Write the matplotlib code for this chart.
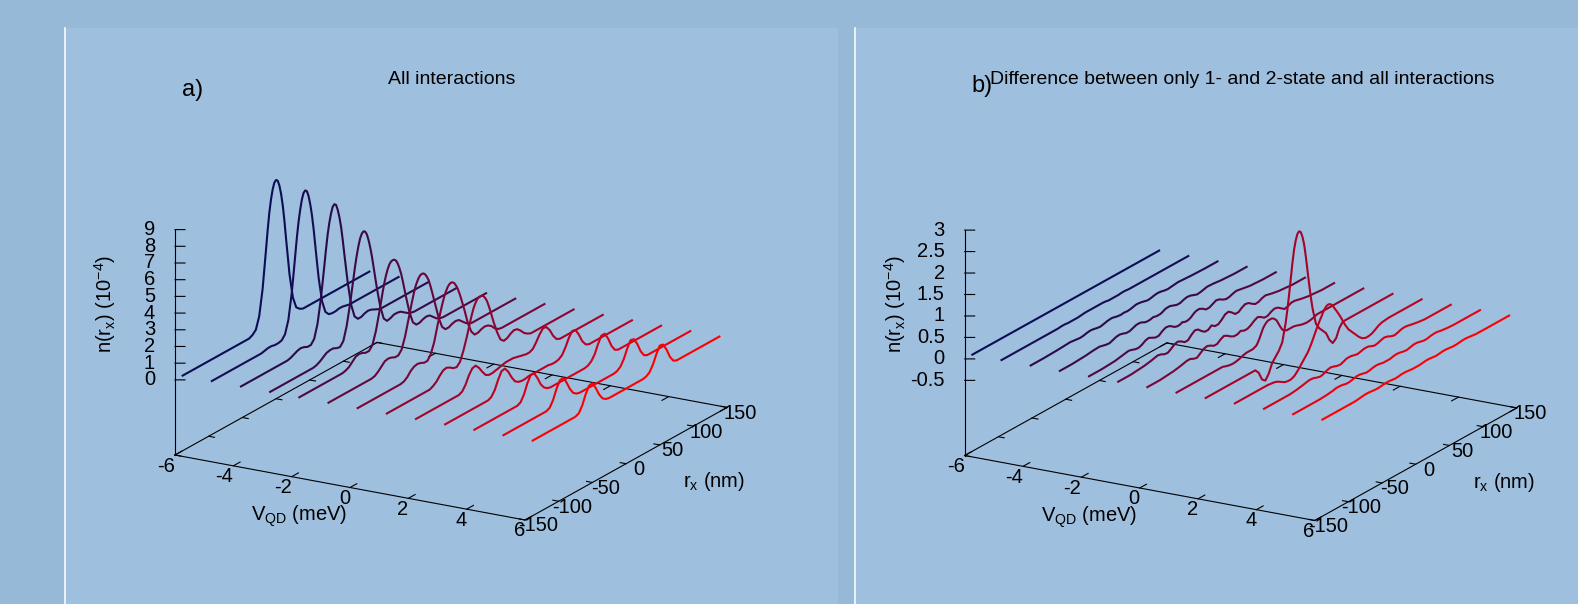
import numpy as np
import matplotlib.pyplot as plt
from matplotlib.patches import Rectangle
from matplotlib.lines import Line2D
from mpl_toolkits.mplot3d import proj3d

W, H = 1578, 604

# gate voltage of each curve (meV) and position grid (nm)
v_qd = [-6, -5, -4, -3, -2, -1, 0, 1, 2, 3, 4, 5, 6]
r_x = [-140, -120, -100, -90, -80, -75, -70, -65, -60, -55, -50, -45, -40, -35, -30, -25,
       -20, -17.5, -15, -12.5, -10, -7.5, -5, -2.5, 0, 2.5, 5, 7.5, 10, 12.5, 15, 17.5, 20,
       25, 30, 35, 40, 45, 50, 55, 60, 65, 70, 75, 80, 90, 100, 120, 140]

# a) density, all interactions (1e-4)
n_all = [
    [0, 0, 0, 0, 0, 0, 0, 0, 0, 0, 0, 0, 0, 0.1, 0.3, 1.0, 2.5, 3.6, 4.7, 5.85, 6.85, 7.6, 8.15, 8.5, 8.6,
     8.5, 8.15, 7.6, 6.85, 5.85, 4.7, 3.6, 2.5, 1.0, 0.3, 0.1, 0, 0, 0, 0, 0, 0, 0, 0, 0, 0, 0, 0, 0],
    [0, 0, 0, 0, 0, 0, 0, 0, 0.05, 0.1, 0.1, 0.05, 0.05, 0.1, 0.35, 1.1, 2.6, 3.6, 4.65, 5.7, 6.6, 7.3, 7.85, 8.2, 8.3,
     8.2, 7.85, 7.3, 6.6, 5.7, 4.65, 3.6, 2.6, 1.1, 0.35, 0.1, 0.05, 0.05, 0.1, 0.1, 0.05, 0, 0, 0, 0, 0, 0, 0, 0],
    [0, 0, 0, 0, 0, 0, 0, 0.05, 0.15, 0.25, 0.3, 0.25, 0.15, 0.15, 0.4, 1.2, 2.6, 3.5, 4.4, 5.35, 6.2, 6.85, 7.35, 7.7, 7.8,
     7.7, 7.35, 6.85, 6.2, 5.35, 4.4, 3.5, 2.6, 1.2, 0.4, 0.15, 0.15, 0.25, 0.3, 0.25, 0.15, 0.05, 0, 0, 0, 0, 0, 0, 0],
    [0, 0, 0, 0, 0, 0, 0.05, 0.15, 0.3, 0.45, 0.5, 0.5, 0.4, 0.35, 0.6, 1.4, 2.6, 3.3, 4.0, 4.7, 5.3, 5.8, 6.2, 6.42, 6.5,
     6.42, 6.2, 5.8, 5.3, 4.7, 4.0, 3.3, 2.6, 1.4, 0.6, 0.35, 0.4, 0.5, 0.5, 0.45, 0.3, 0.15, 0.05, 0, 0, 0, 0, 0, 0],
    [0, 0, 0, 0, 0, 0, 0.05, 0.15, 0.35, 0.55, 0.6, 0.55, 0.45, 0.45, 0.7, 1.4, 2.4, 2.95, 3.5, 4.0, 4.4, 4.72, 4.95, 5.07, 5.1,
     5.07, 4.95, 4.72, 4.4, 4.0, 3.5, 2.95, 2.4, 1.4, 0.7, 0.45, 0.45, 0.55, 0.6, 0.55, 0.35, 0.15, 0.05, 0, 0, 0, 0, 0, 0],
    [0, 0, 0, 0, 0, 0, 0.05, 0.2, 0.4, 0.6, 0.65, 0.6, 0.5, 0.5, 0.75, 1.4, 2.3, 2.75, 3.2, 3.62, 4.0, 4.25, 4.45, 4.57, 4.6,
     4.57, 4.45, 4.25, 4.0, 3.62, 3.2, 2.75, 2.3, 1.4, 0.75, 0.5, 0.5, 0.6, 0.65, 0.6, 0.4, 0.2, 0.05, 0, 0, 0, 0, 0, 0],
    [0, 0, 0, 0, 0, 0, 0.05, 0.2, 0.45, 0.6, 0.65, 0.6, 0.5, 0.5, 0.8, 1.4, 2.3, 2.7, 3.1, 3.47, 3.8, 4.05, 4.25, 4.36, 4.4,
     4.36, 4.25, 4.05, 3.8, 3.47, 3.1, 2.7, 2.3, 1.4, 0.8, 0.5, 0.5, 0.6, 0.65, 0.6, 0.45, 0.2, 0.05, 0, 0, 0, 0, 0, 0],
    [0, 0, 0, 0, 0, 0, 0.1, 0.25, 0.5, 0.7, 0.75, 0.65, 0.5, 0.45, 0.65, 1.2, 1.9, 2.3, 2.7, 3.07, 3.4, 3.63, 3.8, 3.88, 3.9,
     3.88, 3.8, 3.63, 3.4, 3.07, 2.7, 2.3, 1.9, 1.2, 0.65, 0.45, 0.5, 0.65, 0.75, 0.7, 0.5, 0.25, 0.1, 0, 0, 0, 0, 0, 0],
    [0, 0, 0, 0, 0, 0, 0.1, 0.4, 0.85, 1.15, 1.2, 0.95, 0.6, 0.3, 0.2, 0.2, 0.25, 0.27, 0.3, 0.33, 0.35, 0.38, 0.4, 0.4, 0.4,
     0.4, 0.4, 0.38, 0.35, 0.33, 0.3, 0.27, 0.25, 0.2, 0.2, 0.3, 0.6, 0.95, 1.2, 1.15, 0.85, 0.4, 0.1, 0, 0, 0, 0, 0, 0],
    [0, 0, 0, 0, 0, 0, 0.1, 0.4, 0.9, 1.3, 1.35, 1.05, 0.6, 0.25, 0.1, 0.05, 0.05, 0.07, 0.1, 0.1, 0.1, 0.1, 0.1, 0.1, 0.1,
     0.1, 0.1, 0.1, 0.1, 0.1, 0.1, 0.07, 0.05, 0.05, 0.1, 0.25, 0.6, 1.05, 1.35, 1.3, 0.9, 0.4, 0.1, 0, 0, 0, 0, 0, 0],
    [0, 0, 0, 0, 0, 0, 0.1, 0.45, 1.0, 1.4, 1.4, 1.0, 0.5, 0.2, 0.05, 0, 0, 0, 0, 0, 0, 0, 0, 0, 0,
     0, 0, 0, 0, 0, 0, 0, 0, 0, 0.05, 0.2, 0.5, 1.0, 1.4, 1.4, 1.0, 0.45, 0.1, 0, 0, 0, 0, 0, 0],
    [0, 0, 0, 0, 0, 0, 0.1, 0.45, 1.0, 1.4, 1.45, 1.05, 0.55, 0.2, 0.05, 0, 0, 0, 0, 0, 0, 0, 0, 0, 0,
     0, 0, 0, 0, 0, 0, 0, 0, 0, 0.05, 0.2, 0.55, 1.05, 1.45, 1.4, 1.0, 0.45, 0.1, 0, 0, 0, 0, 0, 0],
    [0, 0, 0, 0, 0, 0, 0.1, 0.45, 1.0, 1.4, 1.45, 1.05, 0.55, 0.2, 0.05, 0, 0, 0, 0, 0, 0, 0, 0, 0, 0,
     0, 0, 0, 0, 0, 0, 0, 0, 0, 0.05, 0.2, 0.55, 1.05, 1.45, 1.4, 1.0, 0.45, 0.1, 0, 0, 0, 0, 0, 0],
]

# b) difference between only 1- and 2-state and all interactions (1e-4)
n_diff = [
    [0] * 49,
    [0, 0, 0, 0, 0, 0, 0, 0, 0, 0, 0.01, 0.01, 0, 0, 0, 0, 0.01, 0.015, 0.02, 0.02, 0.02, 0.02, 0.02, 0.02, 0.02,
     0.02, 0.02, 0.02, 0.02, 0.02, 0.015, 0.01, 0, 0, 0, 0, 0.01, 0.01, 0, 0, 0, 0, 0, 0, 0, 0, 0, 0, 0],
    [0, 0, 0.01, 0.02, 0.03, 0.02, 0.01, 0, 0.01, 0.03, 0.04, 0.03, 0.01, 0, 0.02, 0.04, 0.05, 0.05, 0.04, 0.03, 0.02, 0.015, 0.01, 0.015, 0.02,
     0.015, 0.01, 0.015, 0.02, 0.03, 0.04, 0.05, 0.05, 0.04, 0.02, 0, 0.01, 0.03, 0.04, 0.03, 0.01, 0, 0.01, 0.02, 0.03, 0.02, 0.01, 0, 0],
    [0, 0, 0.02, 0.04, 0.05, 0.03, 0.01, 0, 0.03, 0.06, 0.07, 0.05, 0.02, 0.02, 0.05, 0.08, 0.08, 0.07, 0.05, 0.03, 0.02, 0.02, 0.02, 0.03, 0.04,
     0.03, 0.02, 0.02, 0.02, 0.03, 0.05, 0.07, 0.08, 0.08, 0.05, 0.02, 0.02, 0.05, 0.07, 0.06, 0.03, 0, 0.01, 0.03, 0.05, 0.04, 0.02, 0, 0],
    [0, 0, 0.02, 0.05, 0.08, 0.06, 0.03, 0.02, 0.05, 0.1, 0.12, 0.08, 0.04, 0.04, 0.1, 0.14, 0.13, 0.11, 0.08, 0.05, 0.03, 0.02, 0.02, 0.03, 0.05,
     0.03, 0.02, 0.02, 0.03, 0.05, 0.08, 0.11, 0.13, 0.14, 0.1, 0.04, 0.04, 0.08, 0.12, 0.1, 0.05, 0.02, 0.03, 0.06, 0.08, 0.05, 0.02, 0, 0],
    [0, 0, 0.03, 0.06, 0.1, 0.08, 0.04, 0.03, 0.08, 0.14, 0.16, 0.12, 0.06, 0.06, 0.14, 0.2, 0.18, 0.14, 0.1, 0.07, 0.04, 0.04, 0.04, 0.07, 0.1,
     0.07, 0.04, 0.04, 0.04, 0.07, 0.1, 0.14, 0.18, 0.2, 0.14, 0.06, 0.06, 0.12, 0.16, 0.14, 0.08, 0.03, 0.04, 0.08, 0.1, 0.06, 0.03, 0, 0],
    [0, 0, 0.03, 0.06, 0.1, 0.1, 0.06, 0.04, 0.1, 0.16, 0.18, 0.15, 0.1, 0.1, 0.16, 0.2, 0.16, 0.13, 0.1, 0.08, 0.06, 0.06, 0.06, 0.08, 0.1,
     0.08, 0.06, 0.06, 0.06, 0.08, 0.1, 0.13, 0.16, 0.2, 0.16, 0.1, 0.1, 0.15, 0.18, 0.16, 0.1, 0.04, 0.06, 0.1, 0.1, 0.06, 0.03, 0, 0],
    [0, 0, 0, 0, 0, 0, 0, -0.03, -0.05, -0.06, -0.05, -0.03, 0, 0.02, 0.02, 0.02, 0.06, 0.12, 0.2, 0.29, 0.38, 0.43, 0.47, 0.49, 0.49,
     0.49, 0.47, 0.43, 0.38, 0.29, 0.2, 0.12, 0.06, 0.02, 0.02, 0.02, 0, -0.03, -0.05, -0.06, -0.05, -0.03, 0, 0, 0, 0, 0, 0, 0],
    [0, 0, 0, 0, 0, 0, 0, 0, -0.1, -0.3, -0.37, -0.25, -0.05, 0.05, 0.15, 0.3, 0.7, 0.98, 1.3, 1.65, 2.0, 2.3, 2.5, 2.63, 2.67,
     2.63, 2.5, 2.3, 2.0, 1.65, 1.3, 0.98, 0.7, 0.3, 0.15, 0.05, -0.05, -0.25, -0.37, -0.3, -0.1, 0, 0, 0, 0, 0, 0, 0, 0],
    [0, 0, 0, 0, -0.02, -0.05, -0.1, -0.15, -0.17, -0.17, -0.13, -0.05, 0.05, 0.15, 0.25, 0.4, 0.58, 0.67, 0.75, 0.83, 0.9, 0.98, 1.04, 1.08, 1.09,
     1.08, 1.04, 0.98, 0.9, 0.83, 0.75, 0.67, 0.58, 0.4, 0.25, 0.15, 0.05, -0.05, -0.13, -0.17, -0.17, -0.15, -0.1, -0.05, -0.02, 0, 0, 0, 0],
    [0, 0, 0, 0.02, 0.05, 0.07, 0.08, 0.07, 0.04, 0.02, 0.04, 0.08, 0.1, 0.08, 0.05, 0.04, 0.07, 0.09, 0.1, 0.1, 0.1, 0.09, 0.08, 0.07, 0.06,
     0.07, 0.08, 0.09, 0.1, 0.1, 0.1, 0.09, 0.07, 0.04, 0.05, 0.08, 0.1, 0.08, 0.04, 0.02, 0.04, 0.07, 0.08, 0.07, 0.05, 0.02, 0, 0, 0],
    [0, 0, 0, 0.01, 0.03, 0.05, 0.05, 0.04, 0.02, 0.02, 0.04, 0.06, 0.06, 0.04, 0.02, 0.03, 0.05, 0.055, 0.06, 0.055, 0.05, 0.04, 0.03, 0.03, 0.03,
     0.03, 0.03, 0.04, 0.05, 0.055, 0.06, 0.055, 0.05, 0.03, 0.02, 0.04, 0.06, 0.06, 0.04, 0.02, 0.02, 0.04, 0.05, 0.05, 0.03, 0.01, 0, 0, 0],
    [0, 0, 0, 0, 0.02, 0.03, 0.03, 0.02, 0.01, 0.01, 0.02, 0.03, 0.03, 0.02, 0.01, 0.02, 0.03, 0.03, 0.03, 0.025, 0.02, 0.015, 0.01, 0.01, 0.01,
     0.01, 0.01, 0.015, 0.02, 0.025, 0.03, 0.03, 0.03, 0.02, 0.01, 0.02, 0.03, 0.03, 0.02, 0.01, 0.01, 0.02, 0.03, 0.03, 0.02, 0, 0, 0, 0],
]

v_ticks = [-6, -4, -2, 0, 2, 4, 6]
rx_ticks = [-150, -100, -50, 0, 50, 100, 150]
z_ticks_a = [0, 1, 2, 3, 4, 5, 6, 7, 8, 9]
z_ticks_b = [-0.5, 0, 0.5, 1, 1.5, 2, 2.5, 3]

plt.rcParams['font.family'] = ['Liberation Sans', 'DejaVu Sans']
plt.rcParams['mathtext.fontset'] = 'custom'
plt.rcParams['mathtext.rm'] = 'Liberation Sans'
plt.rcParams['mathtext.it'] = 'Liberation Sans:italic'

fig = plt.figure(figsize=(W / 100, H / 100), dpi=100, facecolor='#97b9d8')

# panel backgrounds and white separators
for x0, x1 in [(64, 838), (854, W)]:
    fig.add_artist(Rectangle((x0 / W, 0), (x1 - x0) / W, (H - 28) / H,
                             transform=fig.transFigure, facecolor='#9fbfde',
                             edgecolor='none', zorder=0))
    fig.add_artist(Line2D([(x0 + 0.5) / W] * 2, [0, (H - 28) / H], color='white',
                          lw=1.1, transform=fig.transFigure, zorder=1))

# navy -> red line colours
colors = []
for k in range(13):
    t = k / 12
    colors.append((0.04 + 0.96 * t ** 1.15, 0.05 * (1 - t), 0.33 * (1 - t) ** 0.65))


def to_px(ax, x, y, z):
    xs, ys, _ = proj3d.proj_transform(np.atleast_1d(np.asarray(x, float)),
                                      np.atleast_1d(np.asarray(y, float)),
                                      np.atleast_1d(np.asarray(z, float)), ax.get_proj())
    return ax.transData.transform(np.column_stack([xs, ys]))


TS = 14.5


def panel(origin, zb, zt, zticks, data):
    ax = fig.add_axes([0.1, 0.1, 0.5, 0.5], projection='3d', proj_type='ortho')
    ax.set_axis_off()
    ax.set_facecolor('none')
    ax.computed_zorder = False
    ax.view_init(elev=18.76, azim=-60)
    ax.set_box_aspect((1, 1, 0.589))
    ax.set_xlim(-6, 6)
    ax.set_ylim(-150, 150)
    ax.set_zlim(zb, zt)

    # fit the projected box to the reference pixel frame
    fig.canvas.draw()
    p = to_px(ax, [-6, 6], [-150, -150], [zb, zb])
    k = np.hypot(350, 65) / np.hypot(*(p[1] - p[0]))
    bb = ax.get_position()
    side = bb.width * W
    cen = np.array([(bb.x0 + bb.x1) / 2 * W, (bb.y0 + bb.y1) / 2 * H])
    tgt = np.array([origin[0], H - origin[1]])
    side2 = side * k
    cen2 = tgt - k * (p[0] - cen)
    ax.set_position([(cen2[0] - side2 / 2) / W, (cen2[1] - side2 / 2) / H, side2 / W, side2 / H])

    fk = dict(color='black', lw=0.8, zorder=1)
    ax.plot([-6, 6, 6, -6, -6], [-150, -150, 150, 150, -150], [zb] * 5, **fk)
    ax.plot([-6, -6], [-150, -150], [zb, zt], **fk)
    for v in v_ticks:
        ax.plot([v, v], [-150, -140], [zb, zb], **fk)
        ax.plot([v, v], [150, 140], [zb, zb], **fk)
    for r in rx_ticks:
        ax.plot([6, 5.8], [r, r], [zb, zb], **fk)
        ax.plot([-6, -5.8], [r, r], [zb, zb], **fk)
    for z in zticks:
        ax.plot([-6, -5.743], [-150, -146.3], [z, z], **fk)

    for i, row in enumerate(data):
        n = min(len(row), len(r_x))
        ax.plot([v_qd[i]] * n, r_x[:n], row[:n], color=colors[i], lw=1.5,
                zorder=10 + i, solid_capstyle='butt')

    fig.canvas.draw()
    for v in v_ticks:
        q = to_px(ax, v, -150, zb)[0]
        fig.text(q[0] / W, (q[1] - 11) / H, str(v), fontsize=TS, ha='right', va='center')
    for r in rx_ticks:
        q = to_px(ax, 6, r, zb)[0]
        fig.text((q[0] + 13) / W, (q[1] - 6) / H, str(r), fontsize=TS, ha='center', va='center')
    for z in zticks:
        q = to_px(ax, -6, -150, z)[0]
        fig.text((q[0] - 20) / W, q[1] / H, f'{z:g}', fontsize=TS, ha='right', va='center')
    o = to_px(ax, -6, -150, zb)[0]
    fig.text((o[0] + 124.5) / W, (o[1] - 61.5) / H, r'V$_{\rm QD}$ (meV)', fontsize=TS,
             ha='center', va='center')
    fig.text((o[0] + 539.5) / W, (o[1] - 26.6) / H, r'r$_{\rm x}$ (nm)', fontsize=TS,
             ha='center', va='center')
    fig.text((o[0] - 70) / W, (o[1] + 151) / H, r'n(r$_{\rm x}$) (10$^{-4}$)', fontsize=TS,
             rotation=90, ha='center', va='center')
    return ax


ax_a = panel((175, 455), -4.5, 9, z_ticks_a, n_all)
ax_b = panel((964.7, 455.5), -2.25, 3, z_ticks_b, n_diff)

fig.text(192.6 / W, 1 - 90 / H, 'a)', fontsize=17, ha='center', va='center')
fig.text(452 / W, 1 - 79.5 / H, 'All interactions', fontsize=14, ha='center', va='center')
fig.text(982 / W, 1 - 86 / H, 'b)', fontsize=17, ha='center', va='center')
fig.text(1242.5 / W, 1 - 79.5 / H, 'Difference between only 1- and 2-state and all interactions',
         fontsize=14, ha='center', va='center')

fig.savefig('out.png', dpi=100, facecolor=fig.get_facecolor())
